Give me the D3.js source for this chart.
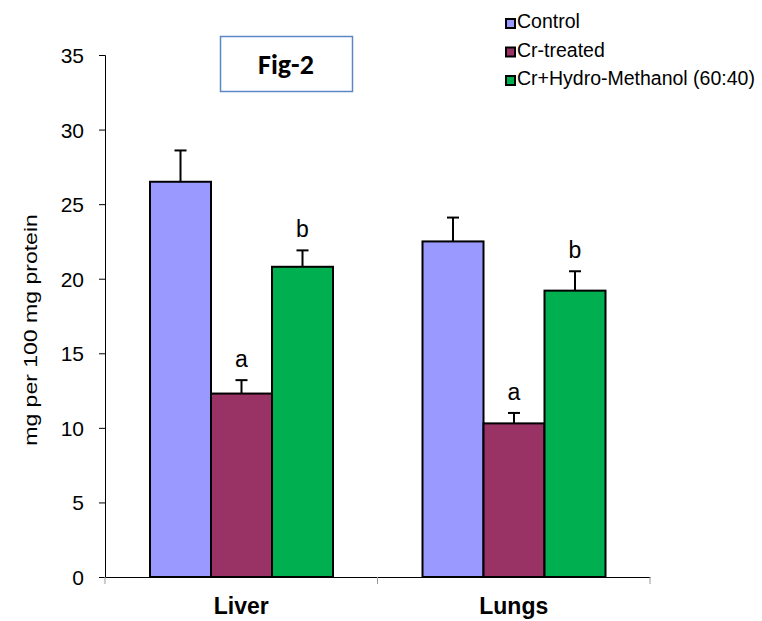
<!DOCTYPE html>
<html><head><meta charset="utf-8">
<script src="https://cdn.jsdelivr.net/npm/d3@7"></script>
<style>body{margin:0;background:#fff}</style>
</head><body>
<svg id="c" width="762" height="621"></svg>
<script>
const categories = ["Liver", "Lungs"];
const seriesNames = ["Control", "Cr-treated", "Cr+Hydro-Methanol (60:40)"];
const seriesColors = ["#9999FF", "#993366", "#00B050"];
const controlVals = [26.5, 22.5];
const crVals = [12.3, 10.3];
const hydroVals = [20.8, 19.2];
const controlErr = [2.1, 1.6];
const crErr = [0.9, 0.7];
const hydroErr = [1.1, 1.3];
const sigLabels = [["", "a", "b"], ["", "a", "b"]];
const yTicks = [0, 5, 10, 15, 20, 25, 30, 35];

const values = [controlVals, crVals, hydroVals];
const errs = [controlErr, crErr, hydroErr];
const FONT = "Liberation Sans, Arial, sans-serif";

const svg = d3.select("#c");
const mLeft = 105, mRight = 650, mTop = 55, mBottom = 577;
const y = d3.scaleLinear().domain([0, 35]).range([mBottom, mTop]);
const x0 = d3.scaleBand().domain(categories).range([mLeft, mRight]).paddingInner(0).paddingOuter(0);
const x1 = d3.scaleBand().domain(seriesNames).range([45, 228]);

// axes
const yAxis = d3.axisLeft(y).tickValues(yTicks).tickSize(6).tickPadding(15);
const gy = svg.append("g").attr("transform", `translate(${mLeft},0)`).call(yAxis);
gy.select(".domain").attr("stroke", "#000").attr("stroke-width", 1);
gy.selectAll(".tick line").attr("stroke", "#000");
gy.selectAll(".tick text").attr("font-family", FONT).attr("font-size", 21).attr("fill", "#000").attr("dy", "0.36em");

const xAxis = d3.axisBottom(x0).tickSize(0).tickFormat("");
const gx = svg.append("g").attr("transform", `translate(0,${mBottom})`).call(xAxis);
gx.select(".domain").attr("stroke", "#000").attr("stroke-width", 1);
const bounds = [mLeft, mLeft + x0.bandwidth(), mRight];
gx.selectAll(".btick").data(bounds).enter().append("line")
  .attr("x1", d => d).attr("x2", d => d).attr("y1", 0).attr("y2", 7).attr("stroke", "#999");
svg.selectAll(".cat").data(categories).enter().append("text")
  .attr("x", d => x0(d) + x0.bandwidth() / 2).attr("y", 614)
  .attr("text-anchor", "middle").attr("font-family", FONT)
  .attr("font-size", 23).attr("font-weight", "bold").text(d => d);

// bars
categories.forEach((cat, ci) => {
  seriesNames.forEach((s, si) => {
    const v = values[si][ci], e = errs[si][ci];
    const bx = x0(cat) + x1(s);
    const bw = x1.bandwidth();
    const cx = bx + bw / 2;
    svg.append("line").attr("x1", cx).attr("x2", cx).attr("y1", y(v)).attr("y2", y(v + e))
      .attr("stroke", "#000").attr("stroke-width", 2);
    svg.append("line").attr("x1", cx - 6).attr("x2", cx + 6).attr("y1", y(v + e)).attr("y2", y(v + e))
      .attr("stroke", "#000").attr("stroke-width", 2);
    svg.append("rect").attr("x", bx).attr("y", y(v)).attr("width", bw).attr("height", y(0) - y(v))
      .attr("fill", seriesColors[si]).attr("stroke", "#000").attr("stroke-width", 2);
    const lab = sigLabels[ci][si];
    if (lab) {
      svg.append("text").attr("x", cx).attr("y", y(v + e) - 13)
        .attr("text-anchor", "middle").attr("font-family", FONT)
        .attr("font-size", 23).attr("fill", "#000").text(lab);
    }
  });
});

svg.append("text").attr("transform", "translate(37,330) rotate(-90) scale(1.28,1)")
  .attr("text-anchor", "middle").attr("font-family", FONT)
  .attr("font-size", 18).attr("fill", "#000").text("mg per 100 mg protein");

svg.append("rect").attr("x", 220.5).attr("y", 36.5).attr("width", 132).attr("height", 55)
  .attr("fill", "#fff").attr("stroke", "#5B87C5").attr("stroke-width", 1.5);
svg.append("text").attr("x", 286).attr("y", 74).attr("text-anchor", "middle")
  .attr("font-family", "Carlito, Calibri, Open Sans, Liberation Sans, sans-serif").attr("font-weight", "bold")
  .attr("font-size", 28).attr("fill", "#000").text("Fig-2");

const lg = svg.append("g");
seriesNames.forEach((s, i) => {
  const ly = 28 + i * 28.5;
  lg.append("rect").attr("x", 506).attr("y", ly - 9).attr("width", 9).attr("height", 9)
    .attr("fill", seriesColors[i]).attr("stroke", "#000").attr("stroke-width", 2);
  lg.append("text").attr("x", 517).attr("y", ly).attr("font-family", FONT)
    .attr("font-size", 19.5).attr("fill", "#000").text(s);
});
</script>
</body></html>
